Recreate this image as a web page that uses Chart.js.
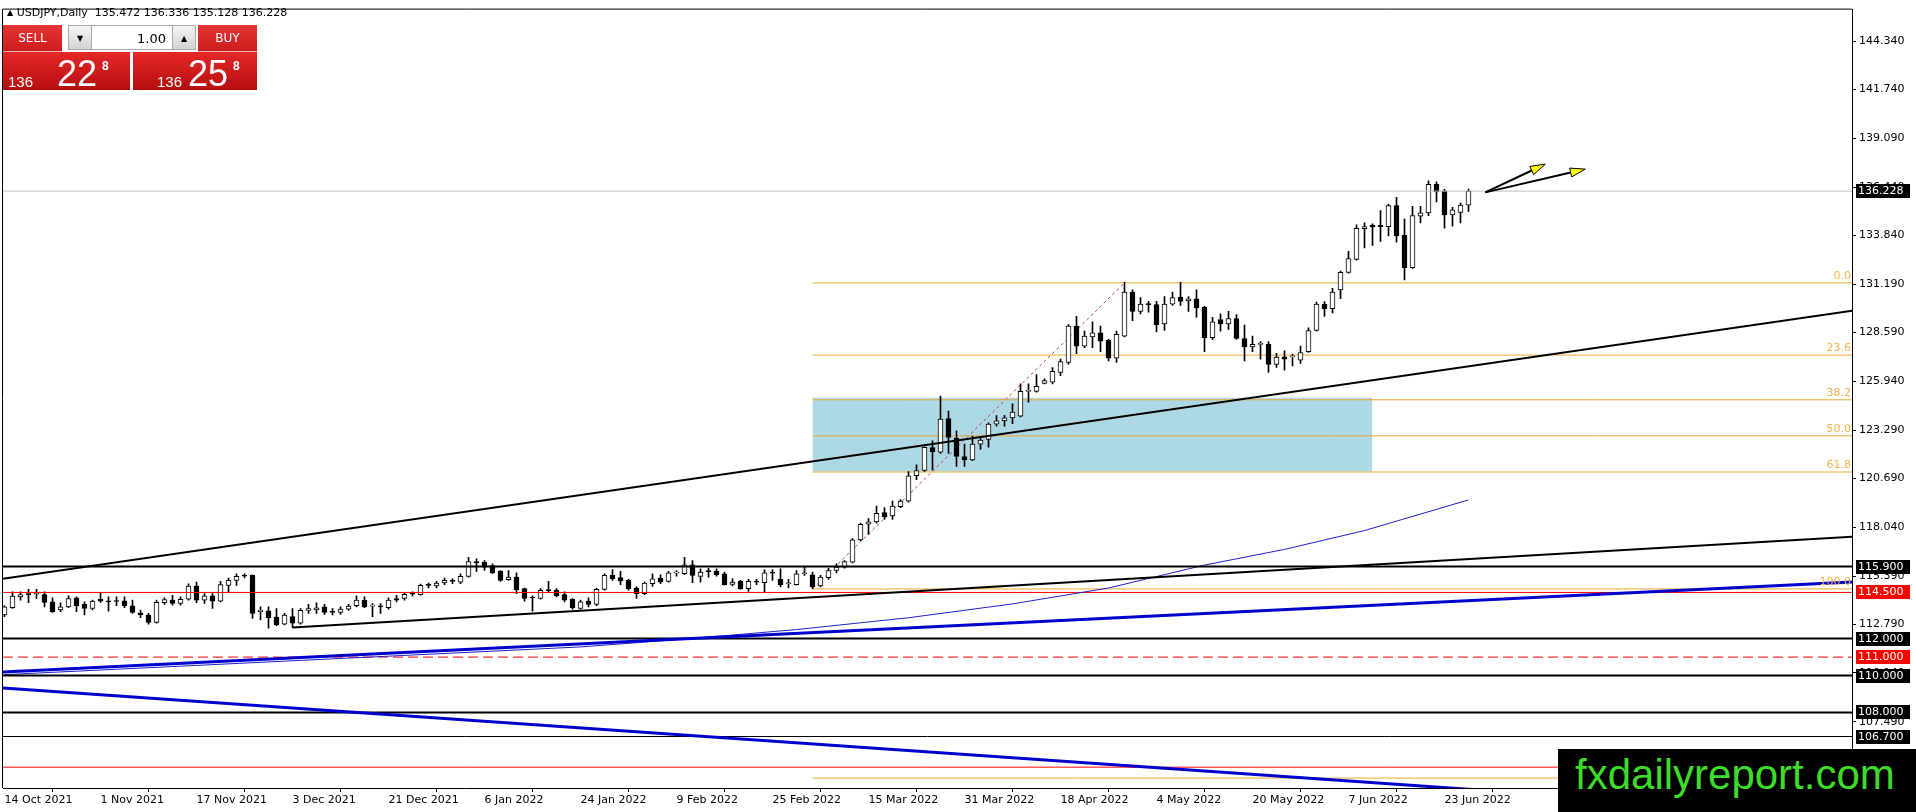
<!DOCTYPE html>
<html lang="en">
<head>
<meta charset="UTF-8" />
<title>USDJPY, Daily</title>
<script src="https://cdn.jsdelivr.net/npm/chart.js"></script>
<style>
  html, body { margin: 0; padding: 0; background: #fff; overflow: hidden; }
  #wrap { position: relative; width: 1916px; height: 812px; font-family: "DejaVu Sans", sans-serif; }
  #chart { position: absolute; left: 0; top: 0; }
  .header { position: absolute; left: 7px; top: 6px; font-size: 11px; line-height: 13px; color: #000; white-space: pre; }
  .header .tri { font-size: 8px; vertical-align: 1px; }
  .pb { position: absolute; top: 25px; width: 59px; height: 26px; line-height: 26px; text-align: center;
        color: #fff; font-size: 12px; background: linear-gradient(#e63535, #cc1c1c); border-bottom: 1px solid #f3b0b0; }
  .sb { position: absolute; top: 25px; width: 24px; height: 25px; line-height: 25px; text-align: center; font-size: 8px;
        background: linear-gradient(#f6f6f6, #d2d2d2); border: 1px solid #a8a8a8; box-sizing: border-box; }
  .lot { position: absolute; top: 25px; left: 92px; width: 80px; height: 25px; line-height: 25px; text-align: right;
         padding-right: 6px; box-sizing: border-box; font-size: 13px; background: #fff; border-top: 1px solid #a8a8a8; border-bottom: 1px solid #a8a8a8; }
  .q { position: absolute; top: 52px; height: 38px; background: linear-gradient(#e42828, #b50f0f); color: #fff;
       font-family: "Liberation Sans", sans-serif; }
  .q span { position: absolute; line-height: 1; white-space: nowrap; }
  .q1 { font-size: 15px; top: 22px; }
  .q2 { font-size: 36px; top: 4px; }
  .q3 { font-size: 12px; font-weight: bold; top: 8px; }
  .wm { position: absolute; left: 1558px; top: 749px; width: 358px; height: 63px; background: #000; }
  .wm span { position: absolute; left: 17px; top: 5px; font: 42px/42px "Liberation Sans", sans-serif; color: #3ddc2a; white-space: nowrap; }
</style>
</head>
<body>
<div id="wrap">
  <canvas id="chart" width="1916" height="812"></canvas>
  <div class="header"><span class="tri">▲</span> USDJPY,Daily  135.472 136.336 135.128 136.228</div>

  <!-- one click trading panel -->
  <div class="pb" style="left:3px">SELL</div>
  <div class="sb" style="left:68px">▼</div>
  <div class="lot">1.00</div>
  <div class="sb" style="left:172px">▲</div>
  <div class="pb" style="left:198px">BUY</div>
  <div class="q" style="left:3px;width:127px"><span class="q1" style="left:5px">136</span><span class="q2" style="left:54px">22</span><span class="q3" style="left:99px">8</span></div>
  <div class="q" style="left:133px;width:124px"><span class="q1" style="left:24px">136</span><span class="q2" style="left:55px">25</span><span class="q3" style="left:100px">8</span></div>

  <div class="wm"><span>fxdailyreport.com</span></div>
</div>

<script>
  // daily bars, index 0 = 14 Oct 2021 ... 183 = 28 Jun 2022
  const opens = [
    113.28,113.67,114.26,114.40,114.40,114.38,113.99,113.55,113.72,114.21,
    113.85,113.63,114.13,114.05,114.03,114.05,113.78,113.40,113.28,112.88,
    113.94,114.08,113.90,114.13,114.85,114.08,114.31,114.03,114.88,115.15,
    115.42,115.42,113.46,113.51,113.17,112.78,113.19,112.83,113.53,113.55,
    113.72,113.49,113.42,113.60,113.78,114.08,113.76,113.74,113.67,114.17,
    114.17,114.44,114.38,114.89,114.85,115.01,115.12,115.06,115.37,116.17,
    116.14,115.96,115.65,115.19,115.33,114.71,114.21,114.17,114.62,114.62,
    114.38,114.13,113.63,114.03,113.85,114.67,115.42,115.30,115.15,114.74,
    114.44,114.97,115.28,115.10,115.56,115.51,115.99,115.37,115.64,115.64,
    115.51,114.94,115.10,114.71,115.08,115.03,115.56,115.21,114.97,114.92,
    115.51,115.46,114.85,115.30,115.69,115.87,116.14,117.35,118.19,118.32,
    118.82,118.64,119.14,119.44,120.82,121.10,122.34,122.09,123.91,122.84,
    121.86,121.68,122.53,122.78,123.61,123.79,123.95,124.04,125.39,125.39,
    125.82,125.88,126.41,126.95,128.92,127.84,128.33,128.56,128.15,127.18,
    128.38,130.76,129.72,130.11,130.08,129.04,130.11,130.49,130.29,130.40,
    129.93,128.29,129.27,129.04,129.33,128.25,127.79,127.93,127.93,126.84,
    127.25,127.25,127.07,127.54,128.68,130.11,129.86,130.88,131.83,132.53,
    134.19,134.37,134.37,134.31,135.44,133.83,132.08,134.87,135.05,136.60,
    136.24,134.94,135.08,135.472
  ];
  const highs = [
    113.78,114.53,114.53,114.67,114.67,114.53,114.21,113.94,114.31,114.26,
    113.99,114.08,114.49,114.26,114.26,114.26,114.08,113.55,113.37,114.08,
    114.21,114.35,114.26,114.97,115.06,114.44,114.44,115.10,115.28,115.51,
    115.51,115.46,113.72,113.72,113.63,113.37,113.63,113.63,113.85,113.94,
    113.85,113.63,113.72,113.85,114.31,114.26,113.90,113.90,114.21,114.35,
    114.47,114.53,114.95,115.01,115.10,115.28,115.24,115.51,116.40,116.32,
    116.23,116.05,115.69,115.69,115.56,114.74,114.31,114.71,115.10,114.71,
    114.53,114.17,114.08,114.21,114.74,115.51,115.74,115.64,115.21,114.80,
    115.06,115.51,115.46,115.64,115.69,116.40,116.23,115.78,115.81,115.78,
    115.60,115.24,115.15,115.21,115.21,115.73,115.73,115.78,115.21,115.69,
    115.87,115.60,115.42,115.81,116.05,116.23,117.42,118.25,118.50,119.17,
    119.09,119.44,119.53,121.05,121.41,122.39,122.71,125.13,124.32,123.25,
    122.53,122.96,122.93,123.68,124.07,124.09,124.71,125.79,125.79,126.29,
    126.06,126.68,127.13,129.00,129.45,128.65,129.15,128.92,128.20,128.65,
    131.29,130.88,130.47,130.26,130.26,130.52,130.76,131.29,130.52,130.88,
    129.99,129.40,129.58,129.72,129.54,128.97,128.38,128.08,128.08,127.45,
    127.58,127.40,127.84,128.83,130.22,130.25,130.97,131.90,132.97,134.40,
    134.51,134.46,135.17,135.53,135.89,134.72,135.40,135.40,136.78,136.73,
    136.33,135.35,135.58,136.336
  ];
  const lows = [
    113.19,113.63,114.08,113.94,114.17,113.72,113.42,113.46,113.67,113.46,
    113.28,113.55,113.96,113.49,113.78,113.67,113.37,113.13,112.78,112.83,
    113.85,113.81,113.81,114.08,113.94,113.90,113.63,113.99,114.53,114.88,
    115.28,113.10,113.01,112.56,112.70,112.74,112.60,112.78,113.37,113.37,
    113.31,113.28,113.31,113.53,113.72,113.67,113.19,113.37,113.60,113.99,
    114.08,114.31,114.35,114.74,114.74,114.92,114.97,114.97,115.33,115.64,
    115.69,115.51,115.10,115.15,114.44,114.03,113.49,114.13,114.49,114.26,
    113.99,113.60,113.60,113.72,113.78,114.62,115.15,114.92,114.62,114.17,
    114.38,114.83,114.97,115.06,115.38,115.46,115.03,115.06,115.33,115.38,
    114.89,114.85,114.67,114.56,114.92,114.49,115.15,114.80,114.74,114.89,
    115.42,114.71,114.80,115.21,115.56,115.81,116.10,117.30,117.64,118.25,
    118.46,118.46,119.09,119.39,120.60,121.05,121.14,122.03,122.03,121.32,
    121.32,121.64,122.25,122.36,123.50,123.50,123.64,124.00,124.80,125.34,
    125.79,125.79,126.23,126.86,127.43,127.75,127.75,127.54,127.04,126.95,
    128.33,129.22,129.58,129.68,128.61,128.68,130.04,130.04,129.72,129.40,
    127.54,128.20,128.65,128.74,128.20,127.04,127.54,127.13,126.41,126.68,
    126.54,126.77,126.90,127.49,128.65,129.45,129.63,130.40,131.78,132.49,
    133.15,133.29,133.51,133.80,133.47,131.42,132.04,134.51,134.90,135.65,
    134.22,134.33,134.51,135.128
  ];
  const closes = [
    113.72,114.30,114.38,114.38,114.42,113.96,113.46,113.72,114.17,113.78,
    113.63,114.03,114.03,113.99,114.01,113.78,113.42,113.28,112.88,113.96,
    114.12,113.90,114.13,114.85,114.08,114.31,114.03,114.92,115.15,115.37,
    115.38,113.37,113.55,113.13,112.74,113.28,112.83,113.53,113.63,113.67,
    113.42,113.42,113.60,113.76,114.08,113.72,113.78,113.72,114.08,114.08,
    114.40,114.40,114.89,114.88,115.01,115.15,115.10,115.37,116.17,116.10,
    115.87,115.56,115.15,115.33,114.65,114.17,114.20,114.62,114.60,114.31,
    114.08,113.67,113.99,113.85,114.67,115.42,115.24,115.12,114.71,114.44,
    115.01,115.24,115.06,115.56,115.57,115.99,115.42,115.60,115.63,115.46,
    114.92,115.06,114.71,115.10,115.06,115.56,115.55,114.92,114.98,115.51,
    115.52,114.80,115.33,115.69,115.87,116.17,117.35,118.19,118.32,118.78,
    118.60,119.17,119.44,120.82,121.10,122.36,122.11,123.88,122.89,121.86,
    121.68,122.53,122.75,123.61,123.79,123.95,124.27,125.39,125.40,125.66,
    125.97,126.47,127.00,128.92,127.84,128.38,128.56,128.11,127.18,128.47,
    130.76,129.72,130.11,130.08,129.00,130.11,130.47,130.26,130.40,129.90,
    128.29,129.15,129.04,129.33,128.25,127.79,127.93,127.95,126.84,127.24,
    127.13,127.26,127.49,128.68,130.11,129.86,130.76,131.83,132.58,134.22,
    134.31,134.28,134.30,135.44,133.80,132.08,134.90,135.05,136.60,136.19,
    134.94,135.22,135.47,136.228
  ];

  // axis labels
  const tickIdx = [0, 12, 24, 36, 48, 60, 72, 84, 96, 108, 120, 132, 144, 156, 168, 180];
  const tickLabels = ['14 Oct 2021', '1 Nov 2021', '17 Nov 2021', '3 Dec 2021', '21 Dec 2021', '6 Jan 2022',
    '24 Jan 2022', '9 Feb 2022', '25 Feb 2022', '15 Mar 2022', '31 Mar 2022', '18 Apr 2022',
    '4 May 2022', '20 May 2022', '7 Jun 2022', '23 Jun 2022'];
  const yTicks = [144.34, 141.74, 139.09, 136.44, 133.84, 131.19, 128.59, 125.94, 123.29,
    120.69, 118.04, 115.39, 112.79, 110.14, 107.49, 104.84];

  // drawn objects (bar index, price)
  const blackTrends = [[[-0.5, 115.22], [231, 129.76]], [[36, 112.60], [231, 117.52]]];
  const blueTrends = [[[-0.5, 110.18], [231, 115.06]], [[-0.5, 109.33], [231, 102.41]]];
  const maBars = [0, 24, 48, 72, 86, 99, 113, 126, 138, 150, 160, 170, 183];
  const maValues = [110.05, 110.55, 111.05, 111.55, 112.01, 112.49, 113.13, 113.88, 114.74, 115.98, 116.83, 117.85, 119.51];
  const fibLevels = ['0.0', '23.6', '38.2', '50.0', '61.8', '100.0', '161.8'];
  const fibPrices = [131.26, 127.35, 124.93, 122.98, 121.02, 114.69, 104.45];
  const fibStart = 101;
  const fibDiag = [[101, 114.69], [140, 131.26]];
  const zoneBars = [101, 171];
  const zonePrices = [121.05, 125.04];
  const blackLevels = [115.9, 112.0, 110.0, 108.0, 106.7];
  const redLevels = [114.5, 105.04];
  const dashLevels = [111.0];
  const lastPrice = 136.228;
  const arrowFrom = [185.1, 136.16];
  const arrowTips = [[192.6, 137.69], [197.6, 137.42]];

  const X_MIN = -0.1875, X_MAX = 230.9375;
  const Y_MIN = 103.912, Y_MAX = 146.056;
  const FIB_COLOR = '#eaa92f';

  Chart.defaults.font.family = '"DejaVu Sans", sans-serif';
  Chart.defaults.font.size = 11;
  Chart.defaults.color = '#000';

  function seg(pts, color, width, order, dash) {
    return {
      type: 'line', data: pts.map(p => ({ x: p[0], y: p[1] })),
      borderColor: color, borderWidth: width, borderDash: dash || [],
      pointRadius: 0, fill: false, tension: 0, order: order
    };
  }

  const wickData = highs.map((h, i) => ({ x: i, y: [lows[i], h] }));
  const bodyData = opens.map((o, i) => ({ x: i, y: [o, closes[i]] }));
  const bodyColors = opens.map((o, i) => closes[i] >= o ? '#fff' : '#000');

  const datasets = [];
  // blue zone behind everything
  datasets.push({
    type: 'line', data: zoneBars.map(b => ({ x: b, y: zonePrices[1] })),
    borderColor: 'transparent', borderWidth: 0, pointRadius: 0,
    fill: { value: zonePrices[0] }, backgroundColor: '#add8e6', order: 10
  });
  fibPrices.forEach(p => datasets.push(seg([[fibStart, p], [X_MAX, p]], FIB_COLOR, 1, 9)));
  datasets.push(seg(fibDiag, '#c23a52', 1, 9, [3, 3]));
  datasets.push({ type: 'bar', data: wickData, backgroundColor: '#000', borderWidth: 0, barThickness: 1, grouped: false, order: 4 });
  datasets.push({
    type: 'bar', data: bodyData, backgroundColor: bodyColors, borderColor: '#000', borderWidth: 1,
    borderSkipped: false, barThickness: 5, minBarLength: 1, grouped: false, order: 3
  });
  datasets.push(seg([[X_MIN, lastPrice], [X_MAX, lastPrice]], '#c0c0c0', 1, 2));
  redLevels.forEach(p => datasets.push(seg([[X_MIN, p], [X_MAX, p]], '#ff0000', 1, 2)));
  dashLevels.forEach(p => datasets.push(seg([[X_MIN, p], [X_MAX, p]], '#ff0000', 1, 2, [10, 5])));
  blackLevels.forEach((p, k) => datasets.push(seg([[X_MIN, p], [X_MAX, p]], '#000', k === blackLevels.length - 1 ? 1 : 2, 1)));
  datasets.push(seg(maBars.map((b, k) => [b, maValues[k]]), '#2020c8', 1, 1));
  blueTrends.forEach(t => datasets.push(seg(t, '#0000cd', 3, 0)));
  blackTrends.forEach(t => datasets.push(seg(t, '#000', 2, 0)));

  const overlay = {
    id: 'overlay',
    afterDraw(chart) {
      const { ctx, chartArea: a, scales: { x, y } } = chart;
      ctx.save();
      // top / left frame
      ctx.strokeStyle = '#000';
      ctx.lineWidth = 1;
      ctx.beginPath();
      ctx.moveTo(a.left - 0.5, a.bottom);
      ctx.lineTo(a.left - 0.5, a.top - 0.5);
      ctx.lineTo(a.right, a.top - 0.5);
      ctx.stroke();

      // fibo level texts
      ctx.font = '11px "DejaVu Sans"';
      ctx.fillStyle = '#f2b24a';
      ctx.textAlign = 'right';
      ctx.textBaseline = 'bottom';
      fibLevels.forEach((t, k) => ctx.fillText(t, a.right - 1, y.getPixelForValue(fibPrices[k]) - 1));

      // arrows
      const x0 = x.getPixelForValue(arrowFrom[0]), y0 = y.getPixelForValue(arrowFrom[1]);
      arrowTips.forEach(t => {
        const x1 = x.getPixelForValue(t[0]), y1 = y.getPixelForValue(t[1]);
        const ang = Math.atan2(y1 - y0, x1 - x0);
        const len = 15, hw = 4.5;
        const bx = x1 - len * Math.cos(ang), by = y1 - len * Math.sin(ang);
        ctx.strokeStyle = '#000';
        ctx.lineWidth = 2;
        ctx.beginPath();
        ctx.moveTo(x0, y0);
        ctx.lineTo(bx, by);
        ctx.stroke();
        ctx.beginPath();
        ctx.moveTo(x1, y1);
        ctx.lineTo(bx + hw * Math.sin(ang), by - hw * Math.cos(ang));
        ctx.lineTo(bx - hw * Math.sin(ang), by + hw * Math.cos(ang));
        ctx.closePath();
        ctx.fillStyle = '#ffff00';
        ctx.fill();
        ctx.lineWidth = 1;
        ctx.stroke();
      });

      // price tags on the axis
      const tags = [[lastPrice, '#000']]
        .concat(blackLevels.map(p => [p, '#000']))
        .concat(redLevels.filter(p => p > Y_MIN + 2).map(p => [p, '#ff0000']))
        .concat(dashLevels.map(p => [p, '#ff0000']));
      ctx.textAlign = 'left';
      ctx.textBaseline = 'middle';
      tags.forEach(([p, c]) => {
        const py = Math.round(y.getPixelForValue(p));
        ctx.fillStyle = c;
        ctx.fillRect(a.right + 4, py - 7, 54, 14);
        ctx.fillStyle = '#fff';
        ctx.fillText(p.toFixed(3), a.right + 6, py + 0.5);
      });
      ctx.restore();
    }
  };

  new Chart(document.getElementById('chart'), {
    type: 'bar',
    data: { datasets },
    options: {
      responsive: false,
      animation: false,
      devicePixelRatio: 1,
      layout: { padding: { left: 3, top: 2, right: 0, bottom: 0 } },
      plugins: { legend: { display: false }, tooltip: { enabled: false } },
      scales: {
        x: {
          type: 'linear', min: X_MIN, max: X_MAX, offset: false,
          grid: { drawOnChartArea: false, drawTicks: true, tickLength: 4, color: '#000' },
          border: { display: true, color: '#000', width: 1 },
          ticks: {
            align: 'start', padding: 2, maxRotation: 0, minRotation: 0, autoSkip: false,
            callback: v => tickLabels[tickIdx.indexOf(v)]
          },
          afterBuildTicks: s => { s.ticks = tickIdx.map(v => ({ value: v })); },
          afterFit: s => { s.height = 24; }
        },
        y: {
          type: 'linear', position: 'right', min: Y_MIN, max: Y_MAX,
          grid: { drawOnChartArea: false, drawTicks: true, tickLength: 4, color: '#000' },
          border: { display: true, color: '#000', width: 1 },
          ticks: { padding: 3, autoSkip: false, callback: v => v.toFixed(3) },
          afterBuildTicks: s => { s.ticks = yTicks.map(v => ({ value: v })); },
          afterFit: s => { s.width = 64; }
        }
      }
    },
    plugins: [overlay]
  });
</script>
</body>
</html>
